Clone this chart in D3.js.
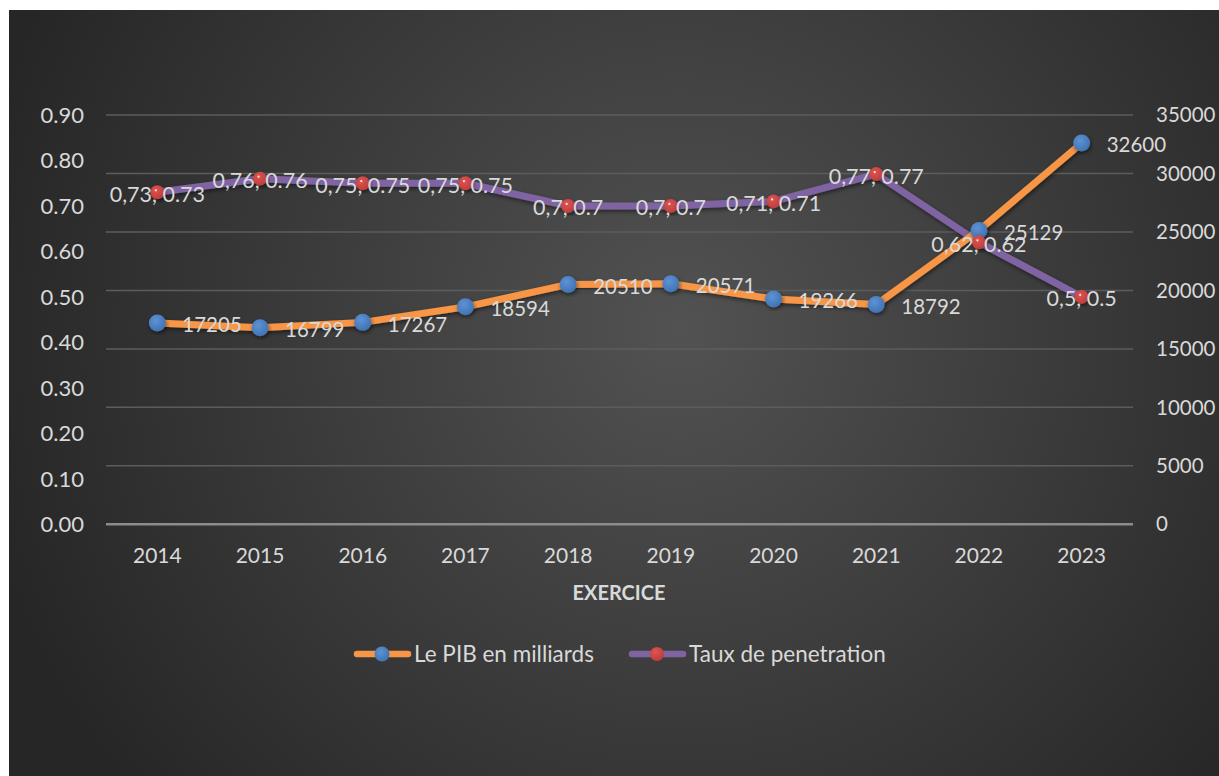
<!DOCTYPE html>
<html><head><meta charset="utf-8">
<script src="https://cdn.jsdelivr.net/npm/d3@7"></script>
<style>body{margin:0;background:#fff;}svg{display:block;font-family:Lato,"Open Sans",sans-serif;}</style>
</head><body><svg id="c" width="1219" height="776"></svg>
<script>
const years = ["2014","2015","2016","2017","2018","2019","2020","2021","2022","2023"];
const pib = [17205,16799,17267,18594,20510,20571,19266,18792,25129,32600];
const taux = [0.73,0.76,0.75,0.75,0.7,0.7,0.71,0.77,0.62,0.5];
const tauxLabels = ["0,73","0,76","0,75","0,75","0,7","0,7","0,71","0,77","0,62","0,5"];
const leftTicks = [0,0.1,0.2,0.3,0.4,0.5,0.6,0.7,0.8,0.9];
const rightTicks = [0,5000,10000,15000,20000,25000,30000,35000];
const seriesNames = ["Le PIB en milliards","Taux de penetration"];

const svg = d3.select("#c");
const defs = svg.append("defs");
const rg = defs.append("radialGradient").attr("id","bg").attr("gradientUnits","userSpaceOnUse")
  .attr("cx",680).attr("cy",330).attr("r",720);
rg.append("stop").attr("offset","0").attr("stop-color","#525252");
rg.append("stop").attr("offset","1").attr("stop-color","#262626");
const bm = defs.append("radialGradient").attr("id","bm").attr("cx","0.4").attr("cy","0.35").attr("r","0.7");
bm.append("stop").attr("offset","0").attr("stop-color","#5d93d3");
bm.append("stop").attr("offset","1").attr("stop-color","#3f70b0");
const rm = defs.append("radialGradient").attr("id","rm").attr("cx","0.4").attr("cy","0.35").attr("r","0.7");
rm.append("stop").attr("offset","0").attr("stop-color","#e05450");
rm.append("stop").attr("offset","1").attr("stop-color","#b83c3a");
const sh = defs.append("filter").attr("id","sh").attr("x","-20%").attr("y","-20%").attr("width","140%").attr("height","140%");
sh.append("feDropShadow").attr("dx",1).attr("dy",2).attr("stdDeviation",2).attr("flood-color","#000").attr("flood-opacity",0.5);

svg.append("rect").attr("x",9).attr("y",10).attr("width",1210).attr("height",766).attr("fill","url(#bg)");

const L=106, R=1133, T=115, B=524.3;
const x = d3.scaleBand().domain(years).range([L,R]);
const yL = d3.scaleLinear().domain([0,0.9]).range([B,T]);
const yR = d3.scaleLinear().domain([0,35000]).range([B,T]);
const cx = d => x(d)+x.bandwidth()/2;
const txt = "#d9d9d9";

// gridlines
svg.append("g").selectAll("line").data(rightTicks.filter(d=>d>0)).join("line")
  .attr("x1",L).attr("x2",R).attr("y1",d=>yR(d)).attr("y2",d=>yR(d))
  .attr("stroke","#5c5c5c").attr("stroke-width",1.5);
svg.append("line").attr("x1",L).attr("x2",R).attr("y1",B).attr("y2",B)
  .attr("stroke","#8c8c8c").attr("stroke-width",2.5);

// left axis
svg.append("g").selectAll("text").data(leftTicks).join("text")
  .attr("x",84).attr("y",d=>yL(d)).attr("dy","0.35em").attr("text-anchor","end")
  .attr("fill",txt).attr("font-size",22).text(d=>d.toFixed(2));
// right axis
svg.append("g").selectAll("text").data(rightTicks).join("text")
  .attr("x",1156).attr("y",d=>yR(d)).attr("dy","0.35em").attr("text-anchor","start")
  .attr("fill",txt).attr("font-size",20.5).text(d=>d);
// x axis
svg.append("g").selectAll("text").data(years).join("text")
  .attr("x",d=>cx(d)).attr("y",556).attr("dy","0.35em").attr("text-anchor","middle")
  .attr("fill",txt).attr("font-size",21).text(d=>d);
svg.append("text").attr("x",619).attr("y",593).attr("dy","0.35em").attr("text-anchor","middle")
  .attr("fill",txt).attr("font-size",20).attr("font-weight","bold").text("EXERCICE");

const curve = d3.curveLinear;
const lineP = d3.line().x((d,i)=>cx(years[i])).y(d=>yR(d)).curve(curve);
const lineT = d3.line().x((d,i)=>cx(years[i])).y(d=>yL(d)).curve(curve);

svg.append("path").attr("d",lineT(taux)).attr("fill","none").attr("stroke","#8064a2")
  .attr("stroke-width",7).attr("stroke-linecap","round").attr("stroke-linejoin","round").attr("filter","url(#sh)");
svg.append("path").attr("d",lineP(pib)).attr("fill","none").attr("stroke","#f79646")
  .attr("stroke-width",7).attr("stroke-linecap","round").attr("stroke-linejoin","round").attr("filter","url(#sh)");

// markers
svg.append("g").selectAll("circle").data(pib).join("circle")
  .attr("cx",(d,i)=>cx(years[i])).attr("cy",d=>yR(d)).attr("r",8.5)
  .attr("fill","url(#bm)").attr("filter","url(#sh)");
const tm = svg.append("g").selectAll("g").data(taux).join("g")
  .attr("transform",(d,i)=>`translate(${cx(years[i])},${yL(d)})`);
tm.append("circle").attr("r",7).attr("fill","url(#rm)").attr("filter","url(#sh)");
tm.append("circle").attr("cx",-1.5).attr("cy",-2).attr("r",1.1).attr("fill","#fff").attr("opacity",0.85);

// labels
svg.append("g").selectAll("text").data(pib).join("text")
  .attr("x",(d,i)=>cx(years[i])+25).attr("y",d=>yR(d)+2).attr("dy","0.35em")
  .attr("fill",txt).attr("font-size",20.5).text(d=>d);
svg.append("g").selectAll("text").data(taux).join("text")
  .attr("x",(d,i)=>cx(years[i])).attr("y",d=>yL(d)+2).attr("dy","0.35em").attr("text-anchor","middle")
  .attr("fill",txt).attr("font-size",21.5).text((d,i)=>tauxLabels[i]+", "+d);

// legend
const leg = [{x:354,c:"#f79646",m:"url(#bm)",r:7.5,name:seriesNames[0]},{x:629,c:"#8064a2",m:"url(#rm)",r:7,name:seriesNames[1]}];
const lg = svg.append("g").selectAll("g").data(leg).join("g").attr("transform",d=>`translate(${d.x},654)`);
lg.append("line").attr("x1",3).attr("x2",54).attr("stroke",d=>d.c).attr("stroke-width",6.5).attr("stroke-linecap","round");
lg.append("circle").attr("cx",28).attr("r",d=>d.r).attr("fill",d=>d.m);
lg.append("text").attr("x",60).attr("dy","0.35em").attr("fill",txt).attr("font-size",22.5).text(d=>d.name);
</script></body></html>
